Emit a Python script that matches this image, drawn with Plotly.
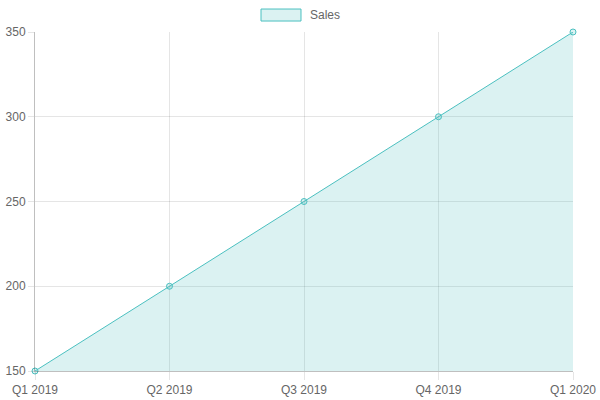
import plotly.graph_objects as go

quarters = ["Q1 2019", "Q2 2019", "Q3 2019", "Q4 2019", "Q1 2020"]
sales = [150, 200, 250, 300, 350]

line_color = "rgb(75,192,192)"
fill_color = "rgba(75,192,192,0.2)"
grid_color = "rgba(0,0,0,0.1)"
font = dict(family="Liberation Sans, Arial, sans-serif", size=12, color="#666")

fig = go.Figure()
fig.add_trace(
    go.Scatter(
        x=quarters, y=sales,
        mode="lines+markers",
        name="Sales",
        line=dict(color=line_color, width=1),
        fill="tozeroy", fillcolor=fill_color,
        marker=dict(size=6, color=fill_color,
                    line=dict(color=line_color, width=1)),
        cliponaxis=False,
        showlegend=False,
    )
)

# legend drawn the Chart.js way: box + label at top centre
fig.add_shape(
    type="rect", xref="paper", yref="paper",
    x0=0.4201, x1=0.4944, y0=1.0324, y1=1.0678,
    line=dict(color=line_color, width=1), fillcolor=fill_color,
)
fig.add_annotation(
    text="Sales", xref="paper", yref="paper",
    x=0.5074, y=1.0501, xanchor="left", yanchor="middle",
    showarrow=False, font=font,
)

fig.update_layout(
    width=600, height=400,
    margin=dict(l=35, r=27, t=32, b=29),
    paper_bgcolor="white", plot_bgcolor="white",
    font=font,
    xaxis=dict(
        range=[0, 4], showgrid=True, gridcolor=grid_color,
        ticks="outside", ticklen=8, tickcolor=grid_color,
        showline=True, linecolor="rgba(0,0,0,0.25)", linewidth=1,
        zeroline=False, tickfont=font, automargin=False,
    ),
    yaxis=dict(
        range=[150, 350], dtick=50, showgrid=True, gridcolor=grid_color,
        ticks="outside", ticklen=6, tickcolor=grid_color,
        showline=True, linecolor="rgba(0,0,0,0.25)", linewidth=1,
        zeroline=False, tickfont=font, automargin=False,
    ),
)

# drop the default 8px body margin so the figure sits at the page corner
fig.write_html(
    "out.html",
    config={"displayModeBar": False},
    post_script="document.body.style.margin='0';",
)
